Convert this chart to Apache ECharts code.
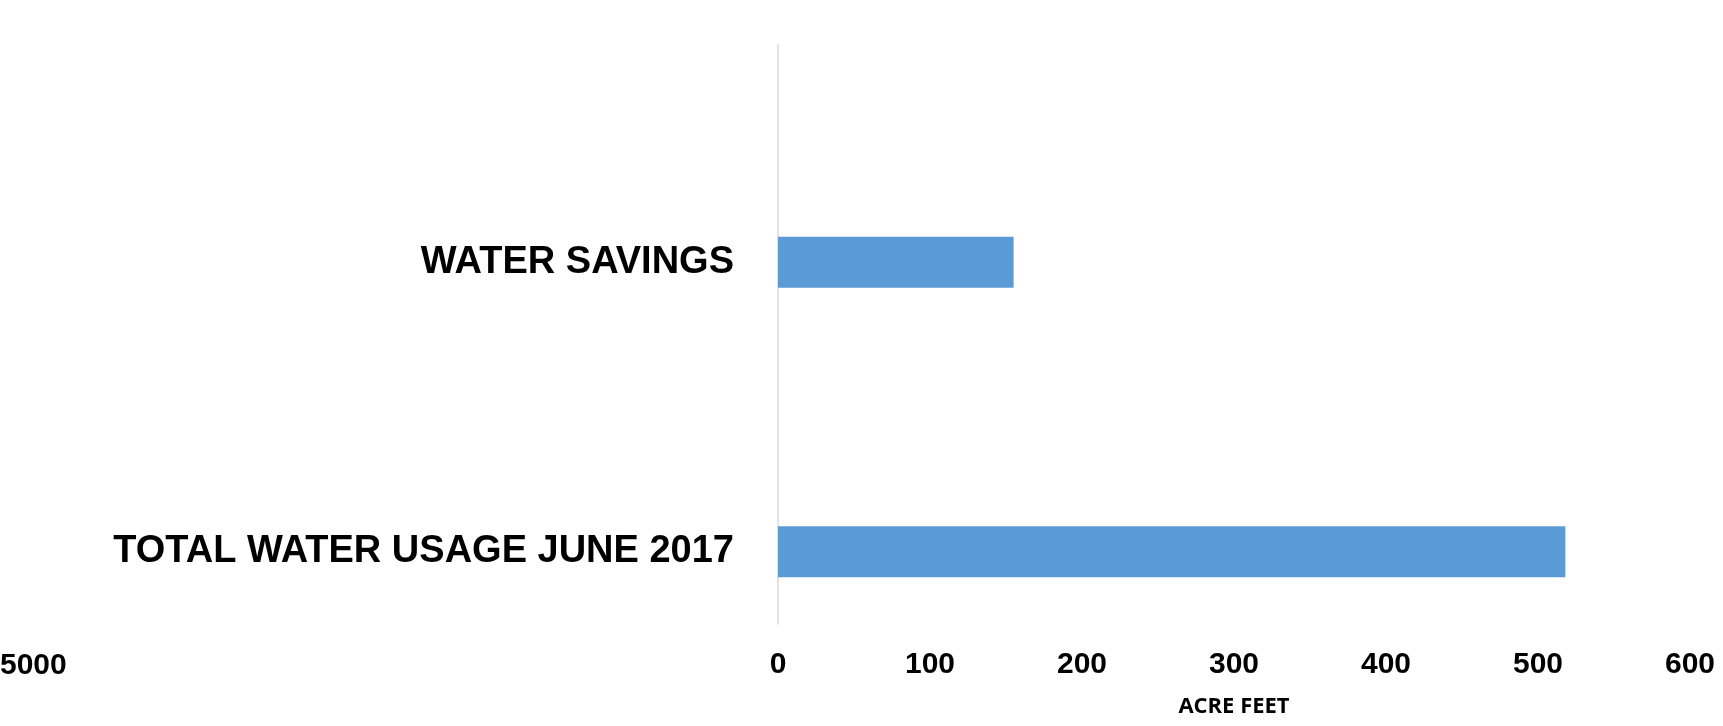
<!DOCTYPE html>
<html>
<head>
<meta charset="utf-8">
<script src="https://cdn.jsdelivr.net/npm/echarts@6/dist/echarts.min.js"></script>
<style>
  html, body { margin: 0; padding: 0; background: #ffffff; }
  #chart { width: 1723px; height: 726px; }
</style>
</head>
<body>
<div id="chart"></div>
<script>
// Categories, listed top to bottom
const categories = ['WATER SAVINGS', 'TOTAL WATER USAGE JUNE 2017'];
// Acre feet for each category
const acreFeet = [155, 518];
// Value axis ticks
const tickValues = [0, 100, 200, 300, 400, 500, 600];
const axisName = 'ACRE FEET';
const strayLabel = '5000';

// Each category sits in the lower half of a double-height slot,
// so an empty slot precedes each one on the category axis.
const slotNames = [];
const slotValues = [];
categories.forEach(function (c, i) {
  slotNames.push('');
  slotValues.push(null);
  slotNames.push(c);
  slotValues.push(acreFeet[i]);
});

const chart = echarts.init(document.getElementById('chart'), null, { renderer: 'canvas' });

chart.setOption({
  animation: false,
  backgroundColor: '#ffffff',
  grid: {
    left: 778, right: 33, top: 45, bottom: 102,
    containLabel: false,
    outerBoundsMode: 'none'
  },
  xAxis: {
    type: 'value',
    min: tickValues[0],
    max: tickValues[tickValues.length - 1],
    interval: tickValues[1] - tickValues[0],
    axisLine: { show: false },
    axisTick: { show: false },
    splitLine: { show: false },
    axisLabel: {
      color: '#000000',
      fontFamily: 'Liberation Sans, Arial, sans-serif',
      fontWeight: 'bold',
      fontSize: 30,
      margin: 26
    },
    name: axisName,
    nameLocation: 'middle',
    nameGap: 72,
    nameTextStyle: {
      color: '#000000',
      fontFamily: 'Open Sans, sans-serif',
      fontWeight: 'bold',
      fontSize: 22
    }
  },
  yAxis: {
    type: 'category',
    inverse: true,
    data: slotNames,
    axisLine: { show: true, lineStyle: { color: '#d9d9d9', width: 1.5 } },
    axisTick: { show: false },
    splitLine: { show: false },
    axisLabel: {
      color: '#000000',
      fontFamily: 'Liberation Sans, Arial, sans-serif',
      fontWeight: 'bold',
      fontSize: 38,
      margin: 44
    }
  },
  series: [{
    type: 'bar',
    data: slotValues,
    barWidth: 51,
    itemStyle: { color: '#5b9bd5' },
    silent: true
  }],
  graphic: [{
    type: 'text',
    left: 0,
    top: 651,
    style: {
      text: strayLabel,
      fill: '#000000',
      font: 'bold 30px "Liberation Sans", Arial, sans-serif'
    }
  }]
});
</script>
</body>
</html>
